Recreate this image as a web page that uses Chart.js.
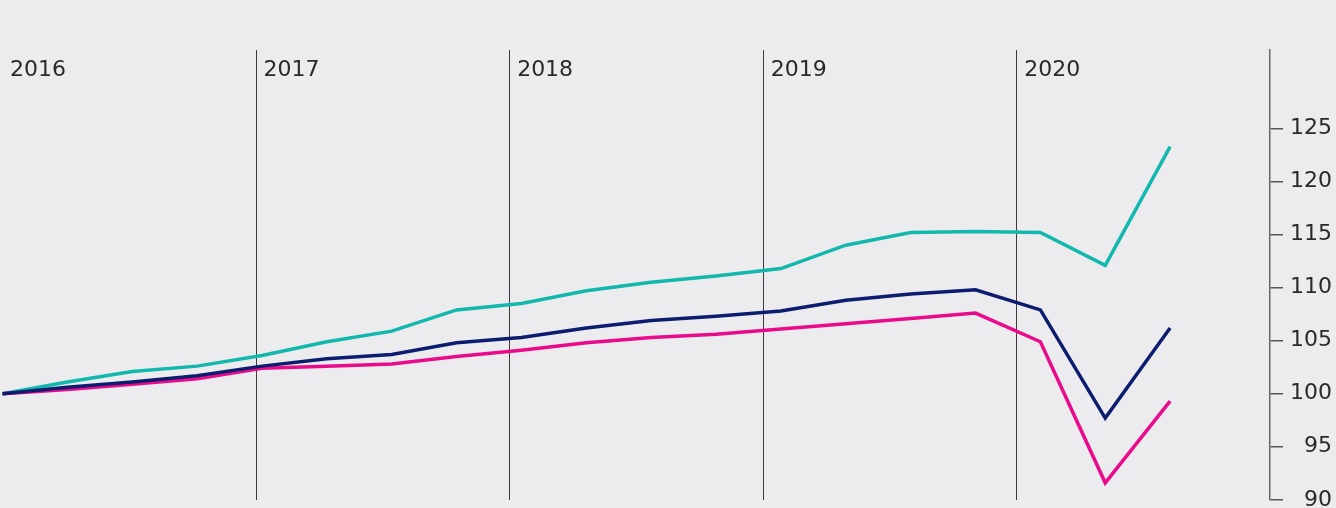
<!DOCTYPE html>
<html>
<head>
<meta charset="utf-8">
<script src="https://cdn.jsdelivr.net/npm/chart.js@4"></script>
<style>
    html, body { margin: 0; padding: 0; background: #ececee; overflow: hidden; }
    #wrap { position: relative; width: 1336px; height: 508px; overflow: hidden; }
    #wrap canvas { display: block; }
</style>
</head>
<body>
<div id="wrap"><canvas id="myChart"></canvas></div>
<script>
// quarterly index points, first point = 100
const teal = [100, 101.1, 102.1, 102.6, 103.6, 104.9, 105.9, 107.9, 108.5, 109.7,
    110.5, 111.1, 111.8, 114.0, 115.2, 115.3, 115.2, 112.1, 123.3];
const navy = [100, 100.6, 101.1, 101.7, 102.6, 103.3, 103.7, 104.8, 105.3, 106.2,
    106.9, 107.3, 107.8, 108.8, 109.4, 109.8, 107.9, 97.7, 106.2];
const pink = [100, 100.4, 100.9, 101.4, 102.4, 102.6, 102.8, 103.5, 104.1, 104.8,
    105.3, 105.6, 106.1, 106.6, 107.1, 107.6, 104.9, 91.6, 99.3];

const years = ['2016', '2017', '2018', '2019', '2020'];
const yearTicks = [0, 3.909, 7.818, 11.727, 15.636];
const yTicks = [90, 95, 100, 105, 110, 115, 120, 125];

const FONT = "'DejaVu Sans', sans-serif";

const toPoints = arr => arr.map((v, i) => ({ x: i, y: v }));

const yearLabels = {
    id: 'yearLabels',
    afterDraw(chart) {
        const c = chart.ctx;
        const sx = chart.scales.x;
        c.save();
        c.font = '22px ' + FONT;
        c.fillStyle = '#2a2a2a';
        c.textAlign = 'left';
        c.textBaseline = 'middle';
        years.forEach((y, i) => {
            c.fillText(y, sx.getPixelForValue(yearTicks[i]) + 7.5, chart.chartArea.top + 20);
        });
        c.restore();
    }
};

const canvas = document.getElementById('myChart');
canvas.width = 1336;
canvas.height = 519;
canvas.style.width = '1336px';
canvas.style.height = '519px';

const line = (data, color) => ({
    data: toPoints(data),
    borderColor: color,
    borderWidth: 3.5,
    pointRadius: 0,
    tension: 0,
    fill: false,
    clip: false
});

new Chart(canvas, {
    type: 'line',
    data: {
        datasets: [
            line(navy, '#0c1c6e'),
            line(pink, '#ea0a8c'),
            line(teal, '#12b8ad')
        ]
    },
    options: {
        responsive: false,
        animation: false,
        layout: { padding: { left: 2.5, right: 4, top: 50, bottom: 17 } },
        plugins: { legend: { display: false }, tooltip: { enabled: false } },
        scales: {
            x: {
                type: 'linear',
                min: 0,
                max: 19.54,
                afterBuildTicks: s => { s.ticks = yearTicks.map(v => ({ value: v })); },
                ticks: { display: false },
                grid: {
                    drawTicks: false,
                    lineWidth: 1,
                    color: ctx => ctx.index === 0 ? 'rgba(0,0,0,0)' : '#3a3a3a'
                },
                border: { display: false }
            },
            y: {
                position: 'right',
                min: 90,
                max: 132.4,
                afterBuildTicks: s => { s.ticks = yTicks.map(v => ({ value: v })); },
                afterFit: s => { s.width = 62; },
                ticks: {
                    font: { family: FONT, size: 22 },
                    color: '#2a2a2a',
                    crossAlign: 'far',
                    padding: 6
                },
                grid: {
                    drawOnChartArea: false,
                    tickLength: 13,
                    color: '#555',
                    lineWidth: 1.5
                },
                border: { display: true, color: '#666', width: 1.5 }
            }
        }
    },
    plugins: [yearLabels]
});
</script>
</body>
</html>
